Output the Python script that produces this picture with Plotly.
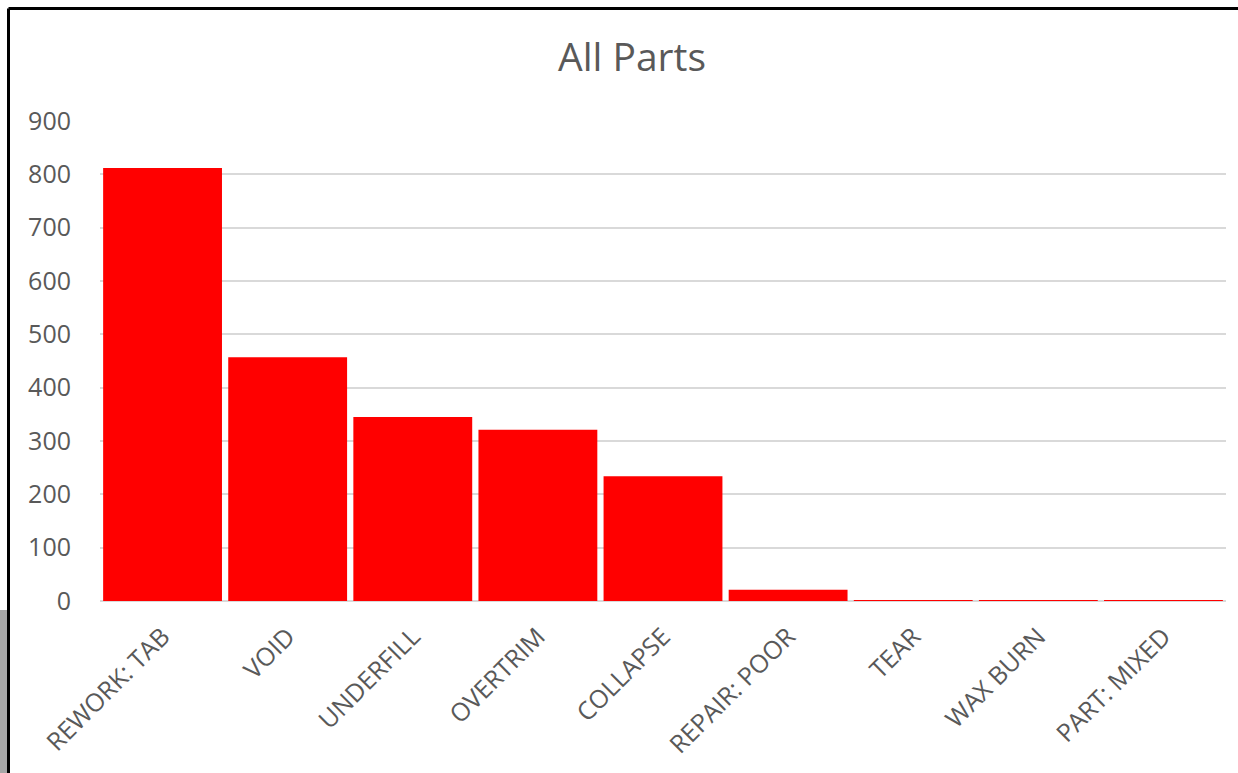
import plotly.graph_objects as go

categories = ["REWORK: TAB", "VOID", "UNDERFILL", "OVERTRIM", "COLLAPSE",
              "REPAIR: POOR", "TEAR", "WAX BURN", "PART: MIXED"]
counts = [812, 457, 345, 321, 234, 21, 1, 1, 1]
y_ticks = [0, 100, 200, 300, 400, 500, 600, 700, 800, 900]

FONT = "Open Sans"
GRAY = "#595959"

fig = go.Figure(go.Bar(
    x=categories, y=counts,
    marker=dict(color="#ff0000", line=dict(width=0)),
))

L, R, T, B = 100, 12, 121, 172
W, H = 1238, 773
pw, ph = W - L - R, H - T - B

def px(x):
    return (x - L) / pw

def py(y):
    return (H - B - y) / ph

fig.update_layout(
    width=W, height=H,
    margin=dict(l=L, r=R, t=T, b=B),
    paper_bgcolor="white", plot_bgcolor="white",
    bargap=0.05,
    showlegend=False,
    title=dict(text="All Parts", x=(632) / W, xanchor="center",
               y=1 - 57 / H, yanchor="middle",
               font=dict(family=FONT, size=39, color=GRAY)),
    font=dict(family=FONT, color=GRAY),
    xaxis=dict(tickangle=-45, tickfont=dict(size=25, color=GRAY),
               showgrid=False, showline=False, ticks="",
               ticklabelstandoff=15),
    yaxis=dict(range=[0, 900], tickvals=y_ticks,
               tickfont=dict(size=25, color=GRAY),
               gridcolor="#d9d9d9", gridwidth=1.5,
               zeroline=True, zerolinecolor="#d9d9d9", zerolinewidth=2,
               ticklabelstandoff=28, showline=False),
    shapes=[
        dict(type="line", xref="paper", yref="paper",
             x0=px(8.5), x1=px(1240), y0=py(8.5), y1=py(8.5),
             line=dict(color="black", width=3)),
        dict(type="line", xref="paper", yref="paper",
             x0=px(8.5), x1=px(8.5), y0=py(8.5), y1=py(775),
             line=dict(color="black", width=3)),
        dict(type="rect", xref="paper", yref="paper",
             x0=px(-2), x1=px(7), y0=py(610), y1=py(775),
             fillcolor="#a6a6a6", line=dict(width=0), layer="below"),
    ],
)

fig.write_html("out.html")
